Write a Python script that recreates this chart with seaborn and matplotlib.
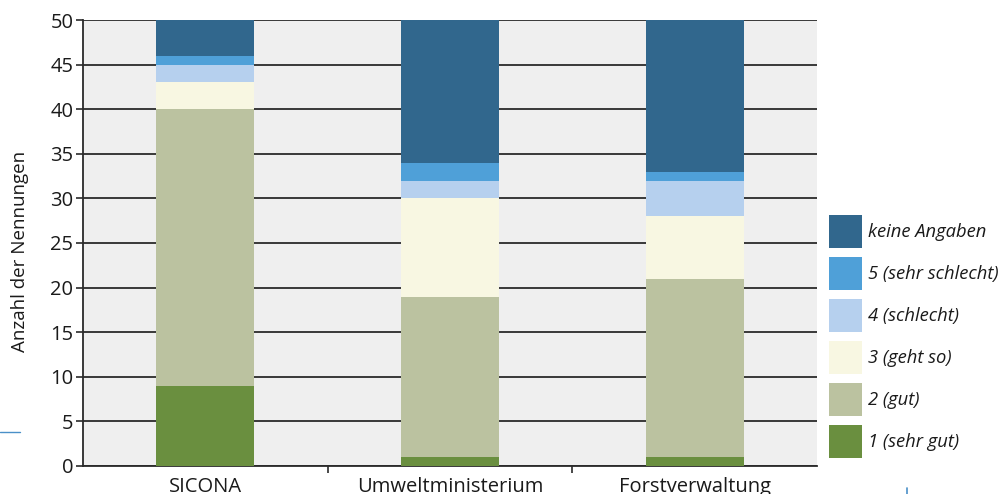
import matplotlib
matplotlib.use("Agg")
import matplotlib.pyplot as plt
from matplotlib.patches import Patch
from matplotlib.lines import Line2D
import numpy as np
import pandas as pd
import seaborn as sns

# Survey answers per institution (number of mentions)
institutions = ["SICONA", "Umweltministerium", "Forstverwaltung"]
sehr_gut = [9, 1, 1]
gut = [31, 18, 20]
geht_so = [3, 11, 7]
schlecht = [2, 2, 4]
sehr_schlecht = [1, 2, 1]
keine_angaben = [4, 16, 17]

categories = ["1 (sehr gut)", "2 (gut)", "3 (geht so)", "4 (schlecht)",
              "5 (sehr schlecht)", "keine Angaben"]
colors = ["#6a8f3f", "#bbc2a0", "#f8f7e2", "#b6d0ee", "#4fa0d8", "#31678d"]
series = [sehr_gut, gut, geht_so, schlecht, sehr_schlecht, keine_angaben]

sns.set_theme(style="white")
plt.rcParams["font.family"] = ["Open Sans", "DejaVu Sans"]

fig = plt.figure(figsize=(9.98, 4.94), dpi=100)
ax = fig.add_axes([0.0832, 0.0567, 0.7354, 0.9028])
ax.set_facecolor("#efefef")

# Stacked bars: draw cumulative totals from the top layer downwards
cum = np.cumsum(np.array(series), axis=0)
for i in range(len(categories) - 1, -1, -1):
    df = pd.DataFrame({"inst": institutions, "val": cum[i]})
    sns.barplot(data=df, x="inst", y="val", color=colors[i], width=0.4,
                saturation=1, linewidth=0, ax=ax, zorder=3)

ax.set_xlim(-0.5, 2.5)
ax.set_ylim(0, 50)
ax.set_yticks(range(0, 51, 5))
ax.yaxis.grid(True, color="#2a2a2a", linewidth=1.3, zorder=1)
ax.set_axisbelow(True)
ax.set_xlabel("")
ax.set_ylabel("Anzahl der Nennungen", fontsize=13.5, color="#1a1a1a")
ax.yaxis.set_label_coords(-0.073, 0.48)

for side in ["top", "right"]:
    ax.spines[side].set_visible(False)
for side in ["left", "bottom"]:
    ax.spines[side].set_color("#2a2a2a")
    ax.spines[side].set_linewidth(1.3)

ax.tick_params(axis="y", which="major", left=True, length=5, width=1.2,
               color="#2a2a2a", labelsize=14.5, labelcolor="#1a1a1a", pad=2)
ax.tick_params(axis="x", which="major", bottom=False, labelsize=14.5,
               labelcolor="#1a1a1a", pad=2)
ax.set_xticks([0.5, 1.5], minor=True)
ax.tick_params(axis="x", which="minor", bottom=True, length=5, width=1.2,
               color="#2a2a2a")

handles = [Patch(facecolor=colors[i], edgecolor="none", label=categories[i])
           for i in range(len(categories) - 1, -1, -1)]
leg = fig.legend(handles=handles, loc="upper left", bbox_to_anchor=(0.8307, 0.5648),
                 frameon=False, fontsize=13.2, handlelength=1.8, handleheight=2.39,
                 labelspacing=0.49, handletextpad=0.3, borderaxespad=0,
                 borderpad=0)
for t in leg.get_texts():
    t.set_style("italic")
    t.set_color("#1a1a1a")

# thin blue rules at the page edges
fig.add_artist(Line2D([0.0, 0.02], [0.125, 0.125], color="#4a90c8", linewidth=1.0))
fig.add_artist(Line2D([0.909, 0.909], [0.0, 0.013], color="#4a90c8", linewidth=1.2))

fig.savefig("out.png", dpi=100)
